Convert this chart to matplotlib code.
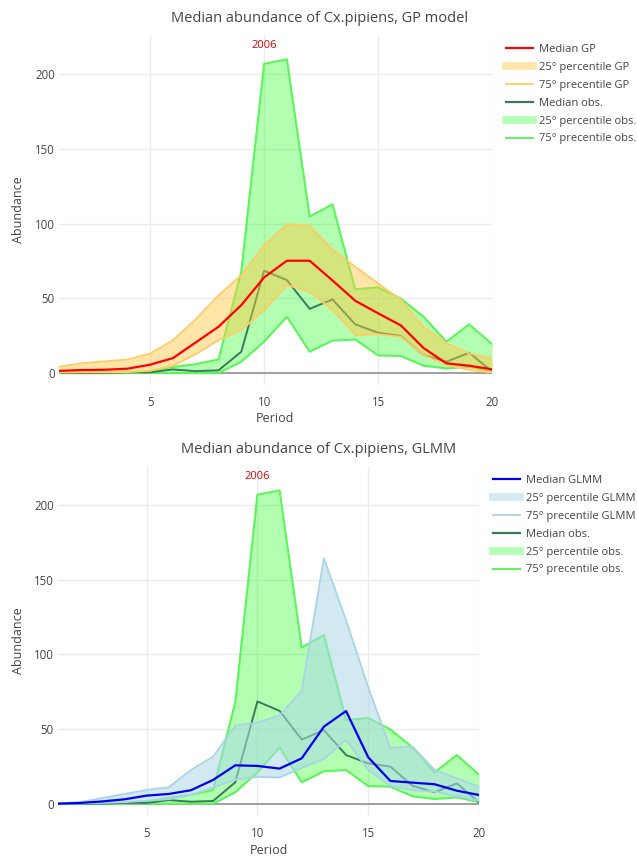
import matplotlib
matplotlib.use("Agg")
import matplotlib.pyplot as plt
from matplotlib.lines import Line2D

plt.rcParams['font.family'] = ['Open Sans', 'DejaVu Sans']

# ---- data -------------------------------------------------------------
period = list(range(1, 21))

gp_median = [1.5, 2.0, 2.2, 2.9, 5.6, 10, 20.5, 31, 45.5, 64, 75.2, 75.2,
             62, 48.4, 40, 31.9, 16.7, 6.5, 4.9, 2.5]
gp_p25 = [0.3, 0.5, 0.5, 0.6, 1.5, 4.9, 12.7, 22, 28.8, 42, 58.9, 54.4,
          42.2, 25.4, 26, 24.3, 12, 5.4, 2, 0.5]
gp_p75 = [4.2, 6.6, 7.8, 9.1, 13, 22, 36, 52, 65.6, 85.7, 99.7, 98.6,
          82.8, 71.2, 60, 48.9, 31, 19.9, 13.2, 9.8]

glmm_median = [0, 0.5, 1.5, 2.9, 5.4, 6.5, 9, 15.9, 25.7, 25.3, 23.5, 30.4,
               51.6, 62.1, 31.1, 15.2, 14.1, 13, 8.7, 5.8]
glmm_p25 = [0, 0.2, 0.5, 1.0, 2.0, 3.0, 6.0, 10.8, 16, 18, 17.5, 24,
            30, 42.7, 22.6, 12, 9, 8, 5, 2]
glmm_p75 = [0.3, 1, 3.8, 6.5, 9.2, 11, 22.6, 31.5, 52.3, 54.3, 59.2, 75.7,
            164.5, 123, 78, 37.5, 38.2, 22.6, 17, 11.4]

obs_median = [0, 0, 0, 0.5, 0.5, 2.4, 1.3, 1.8, 14.3, 68.5, 62.2, 43,
              49.3, 32.6, 27, 24.8, 12, 7.6, 13.6, 1]
obs_p25 = [0, 0, 0, 0, 0, 0, 0, 0, 7.6, 21, 37.7, 14.3,
           21.7, 22.5, 11.8, 11.4, 4.9, 3.1, 4.2, 1]
obs_p75 = [0, 0, 0, 0, 1.5, 4, 6, 9.1, 68, 207, 210, 104.7,
           113, 56, 57.4, 49.8, 37.7, 21, 32.6, 19.4]

year_label = "2006"

# ---- styles -----------------------------------------------------------
TXT = '#444444'
GREEN_LINE = '#5cf55c'
GREEN_FILL = (0.0, 1.0, 0.0, 0.30)
OBS_MED = '#3a7a5a'
YEL_LINE = '#ffcc66'
YEL_FILL = (1.0, 0.78, 0.24, 0.45)
LB_LINE = '#a8d4e6'
LB_FILL = (0.678, 0.847, 0.902, 0.55)

W, H = 637, 863
fig = plt.figure(figsize=(W / 100, H / 100), dpi=100)


def px_axes(left, top, right, bottom):
    return fig.add_axes([left / W, 1 - bottom / H, (right - left) / W,
                         (bottom - top) / H])


def style_axes(ax):
    ax.set_xlim(1, 20)
    ax.set_ylim(-8, 226.3)
    ax.set_xticks([5, 10, 15, 20])
    ax.set_yticks([0, 50, 100, 150, 200])
    ax.grid(True, color='#ececec', lw=1.0, zorder=0)
    ax.set_axisbelow(True)
    for s in ax.spines.values():
        s.set_visible(False)
    ax.tick_params(length=0, labelsize=8.3, colors=TXT)
    ax.tick_params(axis='x', pad=8)
    ax.tick_params(axis='y', pad=3)
    ax.axhline(0, color='#999999', lw=1.3, zorder=0.6)


def draw_obs(ax):
    ax.fill_between(period, obs_p25, obs_p75, color=GREEN_FILL, lw=0, zorder=1)
    ax.plot(period, obs_p25, color=GREEN_LINE, lw=1.5, zorder=1.5)
    ax.plot(period, obs_p75, color=GREEN_LINE, lw=1.5, zorder=1.5)
    ax.plot(period, obs_median, color=OBS_MED, lw=1.4, zorder=2)


def draw_model(ax, lo, hi, med, fill, line, medcolor):
    ax.fill_between(period, lo, hi, color=fill, lw=0, zorder=3)
    ax.plot(period, lo, color=line, lw=1.3, zorder=3.5)
    ax.plot(period, hi, color=line, lw=1.3, zorder=3.5)
    ax.plot(period, med, color=medcolor, lw=1.6, zorder=4)


def blend(rgba):
    r, g, b, a = rgba
    return (r * a + 1 - a, g * a + 1 - a, b * a + 1 - a)


def add_legend(labels, med_color, fill, line, x0, y0):
    handles = [
        Line2D([], [], color=med_color, lw=1.6),
        Line2D([], [], color=blend(fill), lw=5.5),
        Line2D([], [], color=line, lw=1.3),
        Line2D([], [], color=OBS_MED, lw=1.6),
        Line2D([], [], color=blend(GREEN_FILL), lw=5.5),
        Line2D([], [], color=GREEN_LINE, lw=1.4),
    ]
    leg = fig.legend(handles, labels, loc='upper left',
                     bbox_to_anchor=(x0 / W, 1 - y0 / H),
                     bbox_transform=fig.transFigure, frameon=False,
                     fontsize=8, handlelength=2.45, handletextpad=0.5,
                     labelspacing=0.62, borderpad=0, borderaxespad=0)
    for t in leg.get_texts():
        t.set_color(TXT)


# ---- top panel: GP model ---------------------------------------------
ax1 = px_axes(59, 35, 492, 385)
style_axes(ax1)
draw_obs(ax1)
draw_model(ax1, gp_p25, gp_p75, gp_median, YEL_FILL, YEL_LINE, '#ff0000')
ax1.text(10, 219.5, year_label, color='#dd0000', fontsize=8,
         ha='center', va='center')
fig.text(320 / W, 1 - 18 / H, "Median abundance of Cx.pipiens, GP model",
         ha='center', va='center', fontsize=10.5, color=TXT)
fig.text(275 / W, 1 - 418 / H, "Period", ha='center', va='center',
         fontsize=9, color=TXT)
fig.text(18 / W, 1 - 210 / H, "Abundance", ha='center', va='center',
         rotation=90, fontsize=9, color=TXT)
add_legend(["Median GP", "25° percentile GP", "75° precentile GP",
            "Median obs.", "25° percentile obs.", "75° precentile obs."],
           '#ff0000', YEL_FILL, YEL_LINE, 506, 44)

# ---- bottom panel: GLMM ---------------------------------------------
ax2 = px_axes(58, 466, 479, 815.6)
style_axes(ax2)
draw_obs(ax2)
draw_model(ax2, glmm_p25, glmm_p75, glmm_median, LB_FILL, LB_LINE, '#0000ee')
ax2.text(10, 219.5, year_label, color='#dd0000', fontsize=8,
         ha='center', va='center')
fig.text(319 / W, 1 - 449 / H, "Median abundance of Cx.pipiens, GLMM",
         ha='center', va='center', fontsize=10.5, color=TXT)
fig.text(268.5 / W, 1 - 850 / H, "Period", ha='center', va='center',
         fontsize=9, color=TXT)
fig.text(18 / W, 1 - 641 / H, "Abundance", ha='center', va='center',
         rotation=90, fontsize=9, color=TXT)
add_legend(["Median GLMM", "25° percentile GLMM", "75° precentile GLMM",
            "Median obs.", "25° percentile obs.", "75° precentile obs."],
           '#0000ee', LB_FILL, LB_LINE, 493, 475)

fig.savefig("out.png", dpi=100, facecolor='white')
